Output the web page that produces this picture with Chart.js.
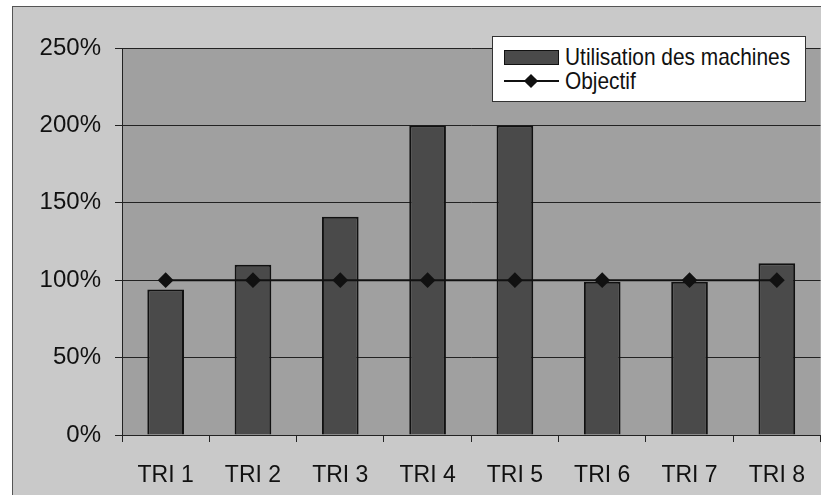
<!DOCTYPE html>
<html>
<head>
<meta charset="utf-8">
<script src="https://cdn.jsdelivr.net/npm/chart.js@4"></script>
<style>
  html, body { margin: 0; padding: 0; background: #fff; overflow: hidden; width: 821px; height: 495px; }
  #frame { position: absolute; left: 12px; top: 6px; width: 840px; height: 520px;
           background: #c9c9c9; border-left: 1px solid #555; border-top: 1px solid #555; }
  #chart { position: absolute; left: 0; top: 0; }
  #legend { position: absolute; left: 479px; top: 29px; width: 314px; height: 66px;
            background: #fff; border: 1px solid #333; box-sizing: border-box;
            font-family: "Liberation Sans", Arial, sans-serif; font-size: 24px; color: #111; }
  .row { position: absolute; left: 11px; height: 26px; line-height: 26px; }
  .swatch { position: absolute; left: 0; top: 6px; width: 53px; height: 13px; background: #4a4a4a; border: 1px solid #111; }
  .ln { position: absolute; left: 0; top: 12px; width: 55px; height: 2px; background: #111; }
  .dia { position: absolute; left: 22px; top: 8px; width: 10px; height: 10px; background: #111; transform: rotate(45deg); }
  .txt { position: absolute; left: 61px; top: 0; white-space: nowrap; transform: scaleX(0.87); transform-origin: 0 50%; }
</style>
</head>
<body>
<div id="frame">
  <canvas id="chart" width="816" height="488"></canvas>
  <div id="legend">
    <div class="row" style="top:7px"><div class="swatch"></div><div class="txt">Utilisation des machines</div></div>
    <div class="row" style="top:31px"><div class="ln"></div><div class="dia"></div><div class="txt">Objectif</div></div>
  </div>
</div>
<script>
const labels = ["TRI 1", "TRI 2", "TRI 3", "TRI 4", "TRI 5", "TRI 6", "TRI 7", "TRI 8"];
const utilisation = [0.94, 1.10, 1.41, 2.00, 2.00, 0.99, 0.99, 1.11];
const objectif = [1, 1, 1, 1, 1, 1, 1, 1];

const fontFamily = '"Liberation Sans", Arial, sans-serif';

// plot area fill, like the grey wall of the old spreadsheet chart
const plotBg = {
  id: 'plotBg',
  beforeDraw(chart) {
    const { ctx, chartArea: a } = chart;
    ctx.save();
    ctx.fillStyle = '#a0a0a0';
    ctx.fillRect(a.left, a.top, a.right - a.left, a.bottom - a.top);
    ctx.restore();
  }
};

new Chart(document.getElementById('chart'), {
  type: 'bar',
  data: {
    labels: labels,
    datasets: [
      {
        type: 'line',
        label: 'Objectif',
        data: objectif,
        borderColor: '#111',
        borderWidth: 2,
        pointStyle: 'rectRot',
        pointRadius: 6.5,
        pointBackgroundColor: '#111',
        pointBorderColor: '#111',
        order: 0
      },
      {
        label: 'Utilisation des machines',
        data: utilisation,
        backgroundColor: '#4a4a4a',
        borderColor: '#111',
        borderWidth: 2,
        categoryPercentage: 1,
        barPercentage: 0.42,
        order: 1
      }
    ]
  },
  options: {
    responsive: false,
    devicePixelRatio: 1,
    animation: false,
    layout: { padding: { top: 41, right: 1, bottom: 0, left: 0 } },
    plugins: { legend: { display: false }, tooltip: { enabled: false } },
    scales: {
      x: {
        offset: true,
        grid: { offset: true, drawOnChartArea: false, drawTicks: true, tickLength: 7, color: '#222' },
        border: { color: '#222', width: 1 },
        ticks: { color: '#111', padding: 20, font: { family: fontFamily, size: 23 } },
        afterFit(scale) { scale.height = 60; }
      },
      y: {
        min: 0,
        max: 2.5,
        grid: { color: '#222', lineWidth: 1, tickLength: 7 },
        border: { color: '#222', width: 1 },
        ticks: {
          stepSize: 0.5,
          color: '#111',
          padding: 14,
          font: { family: fontFamily, size: 24 },
          callback: v => Math.round(v * 100) + '%'
        },
        afterFit(scale) { scale.width = 109; }
      }
    }
  },
  plugins: [plotBg]
});
</script>
</body>
</html>
